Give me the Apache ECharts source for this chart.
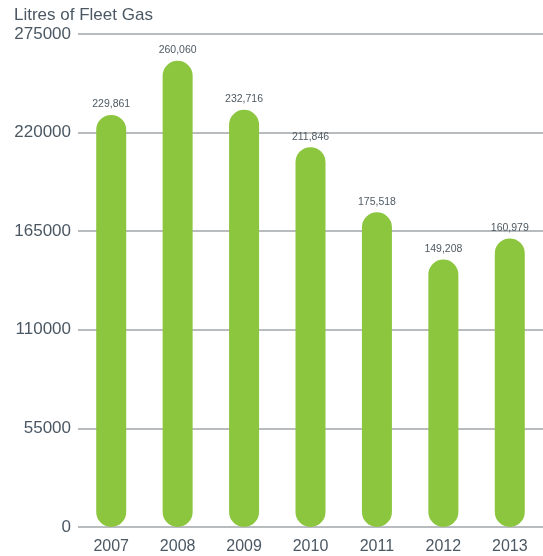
<!DOCTYPE html>
<html>
<head>
<meta charset="utf-8">
<script src="https://cdn.jsdelivr.net/npm/echarts@6/dist/echarts.min.js"></script>
<style>
  html, body { margin: 0; padding: 0; background: #fff; }
  #chart { width: 543px; height: 556px; }
</style>
</head>
<body>
<div id="chart"></div>
<script>
// Annual fleet fuel use, litres
const years = ['2007', '2008', '2009', '2010', '2011', '2012', '2013'];
const litres = [229861, 260060, 232716, 211846, 175518, 149208, 160979];
const yTicks = [0, 55000, 110000, 165000, 220000, 275000];

const chart = echarts.init(document.getElementById('chart'), null, { renderer: 'canvas' });
const textColor = '#4b5863';
const font = '"Liberation Sans", Arial, Helvetica, sans-serif';

chart.setOption({
  animation: false,
  title: {
    text: 'Litres of Fleet Gas',
    left: 9,
    top: 2,
    textStyle: { color: textColor, fontSize: 17, fontWeight: 'normal', fontFamily: font }
  },
  grid: { left: 78, right: -2, top: 34, bottom: 29 },
  xAxis: {
    type: 'category',
    data: years,
    axisLine: { show: false },
    axisTick: { show: false },
    axisLabel: { color: textColor, fontSize: 16, fontFamily: font, margin: 12 }
  },
  yAxis: {
    type: 'value',
    min: yTicks[0],
    max: yTicks[yTicks.length - 1],
    interval: 55000,
    axisLine: { show: false },
    axisTick: { show: false },
    axisLabel: { color: textColor, fontSize: 17, fontFamily: font, margin: 7, formatter: v => String(v) },
    splitLine: { lineStyle: { color: '#a2a6aa', width: 1.5 } }
  },
  series: [{
    type: 'bar',
    data: litres,
    barWidth: 30,
    itemStyle: { color: '#8cc63f', borderRadius: 15 },
    label: {
      show: true,
      position: 'top',
      distance: 5,
      color: '#4f5a63',
      fontSize: 10.5,
      fontFamily: font,
      formatter: p => p.value.toLocaleString('en-US')
    }
  }]
});
</script>
</body>
</html>
